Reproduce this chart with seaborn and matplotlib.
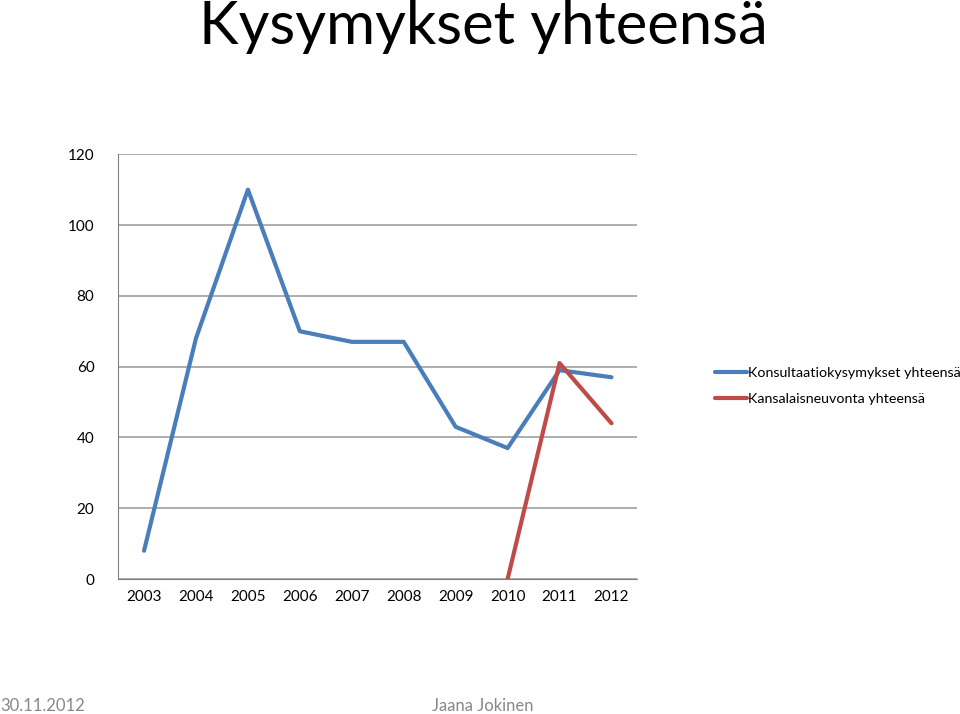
import matplotlib
matplotlib.use("Agg")
from matplotlib import pyplot as plt
from matplotlib.ticker import FixedLocator
import seaborn as sns
import numpy as np
import pandas as pd

years = ["2003", "2004", "2005", "2006", "2007", "2008", "2009", "2010", "2011", "2012"]
konsultaatio = [8, 68, 110, 70, 67, 67, 43, 37, 59, 57]
kansalais_years = ["2010", "2011", "2012"]
kansalais = [0, 61, 44]

s1 = "Konsultaatiokysymykset yhteensä"
s2 = "Kansalaisneuvonta yhteensä"

df = pd.concat([
    pd.DataFrame({"year": years, "value": konsultaatio, "series": s1}),
    pd.DataFrame({"year": kansalais_years, "value": kansalais, "series": s2}),
])
df["x"] = df["year"].map({y: i for i, y in enumerate(years)})

sns.set_style("white")
plt.rcParams["font.family"] = ["Lato", "DejaVu Sans"]
plt.rcParams["text.color"] = "black"
plt.rcParams["xtick.color"] = "black"
plt.rcParams["ytick.color"] = "black"

fig = plt.figure(figsize=(9.6, 7.14), dpi=100)
ax = fig.add_axes([0.123, 0.189, 0.541, 0.595])

palette = {s1: "#4A7EBB", s2: "#BE4B48"}
sns.lineplot(data=df, x="x", y="value", hue="series", palette=palette,
             linewidth=3, ax=ax, legend=True)

ax.set_xlim(-0.5, len(years) - 0.5)
ax.set_ylim(0, 120)
ax.set_yticks(np.arange(0, 121, 20))
ax.yaxis.grid(True, color="#A0A0A0", linewidth=1.2)
ax.set_axisbelow(True)
ax.set_xticks(range(len(years)))
ax.set_xticklabels(years)
ax.xaxis.set_minor_locator(FixedLocator(np.arange(-0.5, len(years), 1)))
ax.tick_params(axis="x", which="major", length=0, pad=8, labelsize=11)
ax.tick_params(axis="x", which="minor", length=5, color="#808080", direction="out")
ax.tick_params(axis="y", length=5, color="#808080", labelcolor="black",
               direction="out", pad=12, labelsize=11)
for side in ["top", "right"]:
    ax.spines[side].set_visible(False)
for side in ["left", "bottom"]:
    ax.spines[side].set_color("#808080")
ax.set_xlabel("")
ax.set_ylabel("")

leg = ax.legend(loc="center left", bbox_to_anchor=(1.125, 0.455), frameon=False,
                fontsize=10.3, handlelength=2.2, handletextpad=0.1, labelspacing=1.0)

fig.text(0.503, 1.0, "Kysymykset yhteensä", ha="center", va="top", fontsize=43, color="black")
fig.text(0.0, 0.0, "30.11.2012", ha="left", va="bottom", fontsize=12, color="#888888")
fig.text(0.503, 0.0, "Jaana Jokinen", ha="center", va="bottom", fontsize=12, color="#888888")

fig.savefig("out.png", dpi=100)
